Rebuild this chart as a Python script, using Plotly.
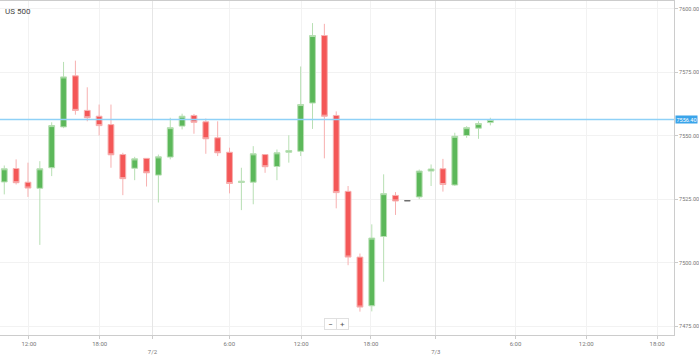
import plotly.graph_objects as go

title = "US 500"
opens = [7531.8, 7537.1, 7531.7, 7529.3, 7537.4, 7553.5, 7573.6, 7560.0, 7557.7, 7554.4,
         7542.6, 7537.2, 7541.1, 7534.5, 7541.6, 7553.8, 7558.0, 7555.5, 7549.2, 7543.5,
         7531.6, 7531.7, 7542.6, 7537.9, 7543.5, 7543.9, 7562.9, 7589.5, 7558.0, 7528.1,
         7502.2, 7483.0, 7510.3, 7526.5, 7524.4, 7525.9, 7536.1, 7537.0, 7530.6, 7550.1,
         7553.0, 7555.2]
highs = [7538.3, 7540.7, 7539.4, 7540.0, 7555.3, 7579.1, 7579.6, 7569.1, 7562.3, 7562.3,
         7543.3, 7541.7, 7541.1, 7542.6, 7557.1, 7558.7, 7558.6, 7556.8, 7555.7, 7545.3,
         7537.4, 7545.9, 7542.6, 7544.6, 7550.2, 7577.3, 7594.4, 7594.1, 7559.6, 7530.2,
         7503.6, 7515.1, 7534.8, 7527.8, 7524.4, 7536.7, 7538.7, 7540.9, 7551.2, 7553.8,
         7555.7, 7557.1]
lows = [7526.9, 7530.8, 7525.9, 7507.0, 7534.1, 7553.0, 7558.3, 7555.7, 7550.1, 7537.4,
        7526.6, 7532.5, 7530.0, 7523.7, 7540.7, 7552.5, 7550.8, 7542.9, 7542.0, 7527.3,
        7520.7, 7523.0, 7535.4, 7532.5, 7539.4, 7542.0, 7552.7, 7541.1, 7521.4, 7499.0,
        7480.7, 7480.8, 7492.5, 7518.8, 7524.4, 7525.0, 7530.2, 7528.0, 7530.2, 7549.2,
        7548.8, 7554.1]
closes = [7537.0, 7531.5, 7529.4, 7537.0, 7554.0, 7573.2, 7560.0, 7557.1, 7554.0, 7542.5,
          7533.1, 7540.9, 7535.4, 7541.7, 7553.2, 7557.7, 7555.3, 7548.8, 7543.3, 7531.2,
          7532.1, 7542.9, 7537.8, 7543.3, 7544.2, 7562.3, 7589.5, 7557.7, 7527.6, 7502.2,
          7482.5, 7509.7, 7527.2, 7524.3, 7524.4, 7536.1, 7536.9, 7530.8, 7549.8, 7553.2,
          7554.8, 7556.4]
last_price = 7556.40

time_tick_labels = ["12:00", "18:00", "6:00", "12:00", "18:00", "6:00", "12:00", "18:00"]
time_tick_pos = [2.08, 8.05, 18.98, 25.04, 30.93, 43.12, 49.09, 55.06]
date_tick_labels = ["7/2", "7/3"]
date_tick_pos = [12.5, 36.4]
y_ticks = [7475, 7500, 7525, 7550, 7575, 7600]

idx = list(range(len(opens)))
moving = [i for i in idx if opens[i] != closes[i]]
flat = [i for i in idx if opens[i] == closes[i]]

GREEN = "#5cb85a"
RED = "#f45757"
FONT = "Roboto"

fig = go.Figure()
fig.add_trace(go.Candlestick(
    x=moving,
    open=[opens[i] for i in moving], high=[highs[i] for i in moving],
    low=[lows[i] for i in moving], close=[closes[i] for i in moving],
    increasing=dict(line=dict(color="#b7dfb3", width=1), fillcolor=GREEN),
    decreasing=dict(line=dict(color="#f7b0b0", width=1), fillcolor=RED),
    showlegend=False, hoverinfo="skip",
))
fig.add_trace(go.Candlestick(
    x=flat,
    open=[opens[i] for i in flat], high=[highs[i] for i in flat],
    low=[lows[i] for i in flat], close=[closes[i] for i in flat],
    increasing=dict(line=dict(color="#666666", width=0.8), fillcolor="#666666"),
    decreasing=dict(line=dict(color="#666666", width=0.8), fillcolor="#666666"),
    showlegend=False, hoverinfo="skip",
))
# invisible trace to keep the date axis drawn
fig.add_trace(go.Scatter(x=[date_tick_pos[0]], y=[last_price], xaxis="x2",
                         mode="markers", marker=dict(opacity=0), showlegend=False,
                         hoverinfo="skip"))

xr = [-0.36, 56.49]
fig.add_hline(y=last_price, line=dict(color="#8fd1f7", width=1.6))

fig.update_layout(
    width=699, height=355,
    margin=dict(l=0, r=23, t=1, b=19),
    paper_bgcolor="white", plot_bgcolor="white",
    font=dict(family=FONT, size=6, color="#777777"),
    xaxis=dict(
        range=xr, rangeslider=dict(visible=False),
        tickvals=time_tick_pos, ticktext=time_tick_labels,
        showgrid=True, gridcolor="#f2f2f2", gridwidth=1,
        showline=True, linecolor="#cccccc", linewidth=1, mirror=True,
        ticks="outside", ticklen=3, tickcolor="#cccccc",
        tickfont=dict(size=6, color="#777777"), zeroline=False,
    ),
    xaxis2=dict(
        range=xr, overlaying="x", side="bottom", anchor="y",
        tickvals=date_tick_pos, ticktext=["<br>" + d for d in date_tick_labels],
        showgrid=True, gridcolor="#e6e6e6", gridwidth=1,
        showline=False, ticks="outside", ticklen=3, tickcolor="#cccccc",
        tickfont=dict(size=6, color="#777777"), zeroline=False,
    ),
    yaxis=dict(
        range=[7471.5, 7603.1], side="right",
        tickvals=y_ticks, tickformat=".2f",
        showgrid=True, gridcolor="#f2f2f2", gridwidth=1,
        showline=True, linecolor="#cccccc", linewidth=1,
        ticks="outside", ticklen=3, tickcolor="#cccccc",
        tickfont=dict(size=5.5, color="#777777"), zeroline=False,
    ),
    annotations=[
        dict(text=title, xref="paper", yref="paper", x=0.004, y=0.970,
             xanchor="left", yanchor="middle", showarrow=False,
             font=dict(family=FONT, size=8, color="#444444")),
        dict(text=f"{last_price:.2f}", xref="paper", yref="y", x=1.0, y=last_price,
             xanchor="left", yanchor="middle", xshift=1, showarrow=False,
             bgcolor="#3aa4ea", borderpad=0.5,
             font=dict(family=FONT, size=5.5, color="white")),
        dict(text="−", xref="paper", yref="paper", x=0.4905, y=0.033,
             xanchor="center", yanchor="middle", showarrow=False,
             bgcolor="white", bordercolor="#e0e0e0", borderwidth=1, borderpad=1,
             width=9, height=8, font=dict(size=8, color="#555555")),
        dict(text="+", xref="paper", yref="paper", x=0.5085, y=0.033,
             xanchor="center", yanchor="middle", showarrow=False,
             bgcolor="white", bordercolor="#e0e0e0", borderwidth=1, borderpad=1,
             width=9, height=8, font=dict(size=8, color="#555555")),
    ],
)

fig.write_html("out.html")
